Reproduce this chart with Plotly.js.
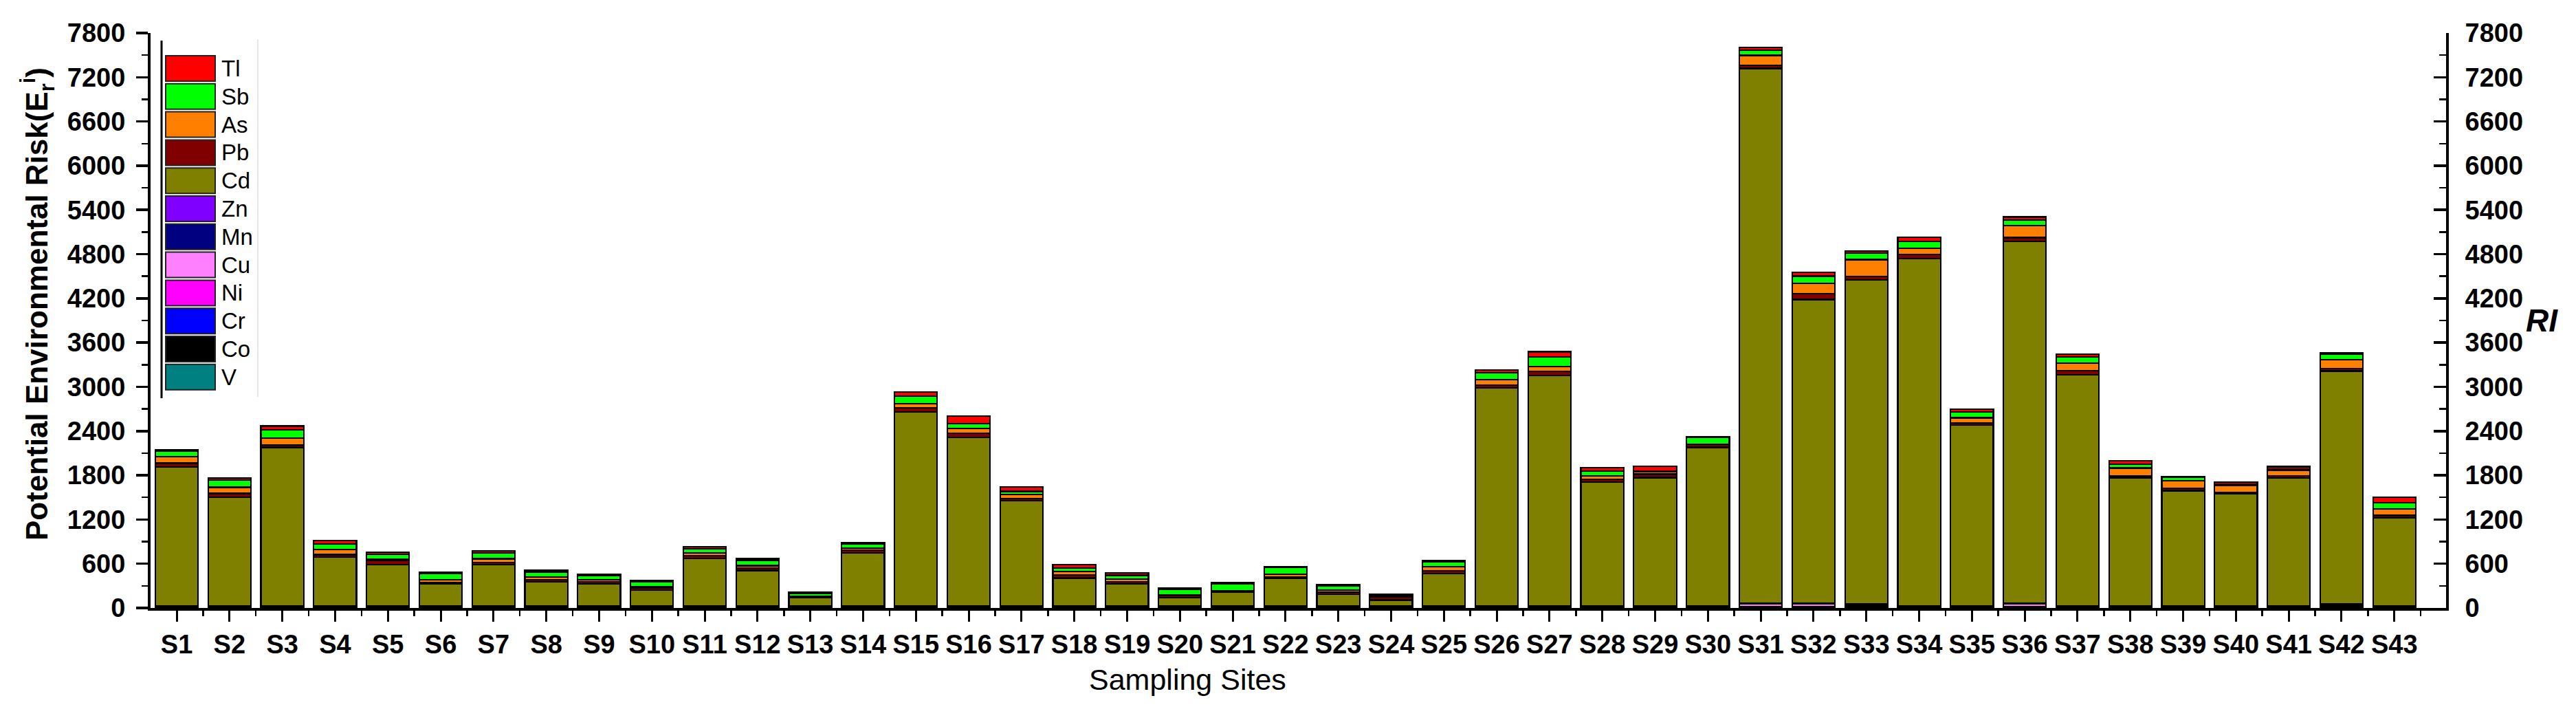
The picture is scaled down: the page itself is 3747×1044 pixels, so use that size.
<!DOCTYPE html>
<html>
<head>
<meta charset="utf-8">
<script src="https://cdn.plot.ly/plotly-3.0.1.min.js"></script>
<style>
html,body{margin:0;padding:0;background:#fff;}
#chart{width:3747px;height:1044px;}
</style>
</head>
<body>
<div id="chart"></div>
<script>
// ---- data ----
const sites = ['S1','S2','S3','S4','S5','S6','S7','S8','S9','S10','S11','S12','S13','S14','S15','S16','S17','S18','S19','S20','S21','S22','S23','S24','S25','S26','S27','S28','S29','S30','S31','S32','S33','S34','S35','S36','S37','S38','S39','S40','S41','S42','S43'];

// stacking order: bottom -> top
const elements = ['V','Co','Cr','Ni','Cu','Mn','Zn','Cd','Pb','As','Sb','Tl'];
const colors   = ['#008080','#000000','#0000FF','#FF00FF','#FF80FF','#000080','#8000FF','#808000','#800000','#FF8000','#00FF00','#FF0000'];

const V  = [4,4,4,4,4,4,4,4,4,4,4,4,4,4,4,4,4,4,4,4,4,4,4,4,4,4,4,4,4,4,4,4,4,4,4,4,4,4,4,4,4,4,4];
const Co = [8,8,8,8,8,8,8,8,8,8,8,8,8,8,8,8,8,8,8,8,8,8,8,8,8,8,8,8,8,8,8,8,35,8,8,8,8,8,8,8,8,35,8];
const Cr = [3,3,3,3,3,3,3,3,3,3,3,3,3,3,3,3,3,3,3,3,3,3,3,3,3,3,3,3,3,3,3,3,3,3,3,3,3,3,3,3,3,3,3];
const Ni = [6,6,6,6,6,6,6,6,6,6,6,6,6,6,6,6,6,6,6,6,6,6,6,6,6,6,6,6,6,6,6,6,6,6,6,6,6,6,6,6,6,6,6];
const Cu = [6,6,6,6,6,6,6,6,6,6,6,6,6,6,6,6,6,6,6,6,6,6,6,6,6,6,6,6,6,6,40,40,6,6,6,40,6,6,6,6,6,6,6];
const Mn = [1,1,1,1,1,1,1,1,1,1,1,1,1,1,1,1,1,1,1,1,1,1,1,1,1,1,1,1,1,1,1,1,1,1,1,1,1,1,1,1,1,1,1];
const Zn = [2,2,2,2,2,2,2,2,2,2,2,2,2,2,2,2,2,2,2,2,2,2,2,2,2,2,2,2,2,2,2,2,2,2,2,2,2,2,2,2,2,2,2];
const Cd = [1884,1472,2148,662,561,293,555,324,293,216,641,478,108,718,2632,2284,1422,376,293,108,185,370,155,78,438,2959,3127,1678,1739,2148,7255,4120,4395,4708,2453,4910,3132,1739,1561,1524,1733,3158,1195];
const Pb = [50,52,30,31,50,20,31,30,30,25,37,35,8,35,52,55,35,40,35,30,15,20,30,40,35,32,50,40,46,40,46,78,45,58,30,50,55,20,35,15,25,35,30];
const As = [85,83,100,70,25,37,52,35,30,20,40,30,8,30,60,65,55,48,35,5,5,40,30,10,55,75,65,40,37,5,131,145,228,80,67,165,105,110,100,90,80,120,85];
const Sb = [75,98,110,75,65,88,80,70,52,62,55,75,46,58,100,70,40,45,50,77,95,88,50,12,70,95,135,70,8,92,70,95,87,95,78,75,80,50,47,15,12,70,88];
const Tl = [24,25,50,46,23,15,30,25,20,22,28,23,15,15,55,102,58,52,34,18,18,12,22,15,18,37,68,44,65,10,37,50,30,58,40,40,44,45,12,34,37,20,72];

const yTicks = [0,600,1200,1800,2400,3000,3600,4200,4800,5400,6000,6600,7200,7800];

const seriesValues = [V,Co,Cr,Ni,Cu,Mn,Zn,Cd,Pb,As,Sb,Tl];

// ---- geometry (pixels) ----
const W = 3747, H = 1044;
const PL = 219, PR = 3558, PT = 48, PB = 884;
const fx = px => (px - PL) / (PR - PL);
const fy = py => (PB - py) / (PB - PT);
const FONT = 'Liberation Sans, Arial, sans-serif';

const xIdx = sites.map((s, i) => i + 1);

const traces = elements.map((el, k) => ({
  type: 'bar',
  name: el,
  x: xIdx,
  y: seriesValues[k],
  marker: {color: colors[k], line: {color: '#000', width: 2.2}},
  hoverinfo: 'x+y+name',
  showlegend: false
}));

// RI (sum of all E_r^i) on the right axis; drawn invisibly so the RI axis exists
const RI = xIdx.map((_, i) => seriesValues.reduce((s, arr) => s + arr[i], 0));
traces.push({type:'scatter', mode:'none', x: xIdx, y: RI, yaxis:'y2', name:'RI', showlegend:false, hoverinfo:'skip'});

// manual legend built from the element names & colours (top = last element)
const shapes = [];
const annotations = [];
shapes.push({type:'line', xref:'paper', yref:'paper', x0:fx(235), x1:fx(235), y0:fy(59), y1:fy(579), line:{color:'#000', width:3}});
shapes.push({type:'line', xref:'paper', yref:'paper', x0:fx(375), x1:fx(375), y0:fy(57), y1:fy(577), line:{color:'#e6e6e6', width:2}});
const legendOrder = elements.slice().reverse();
const legendColors = colors.slice().reverse();
legendOrder.forEach((el, i) => {
  const top = 81 + i * 40.8;
  const bot = top + 37;
  shapes.push({type:'rect', xref:'paper', yref:'paper', x0:fx(241), x1:fx(313), y0:fy(bot), y1:fy(top),
    fillcolor: legendColors[i], line:{color:'#222', width:2}});
  annotations.push({xref:'paper', yref:'paper', x:fx(320), y:fy((top+bot)/2), text: el, showarrow:false,
    xanchor:'left', yanchor:'middle', font:{family:FONT, size:33, color:'#000'}});
});

// axis titles
annotations.push({xref:'paper', yref:'paper', x:fx(55), y:fy(442), textangle:-90, showarrow:false,
  text:'Potential Environmental Risk(E<sub>r</sub><sup>i</sup>)', xanchor:'center', yanchor:'middle',
  font:{family:FONT, size:44, color:'#000', weight:'bold'}});
annotations.push({xref:'paper', yref:'paper', x:fx(1727), y:fy(988), showarrow:false,
  text:'Sampling Sites', xanchor:'center', yanchor:'middle',
  font:{family:FONT, size:43, color:'#000'}});
annotations.push({xref:'paper', yref:'paper', x:fx(3697), y:fy(466), showarrow:false,
  text:'<b><i>RI</i></b>', xanchor:'center', yanchor:'middle',
  font:{family:FONT, size:46, color:'#000'}});

const layout = {
  width: W, height: H,
  margin: {l: PL, r: W - PR, t: PT, b: H - PB, pad: 0},
  paper_bgcolor: '#fff', plot_bgcolor: '#fff',
  barmode: 'stack',
  bargap: 0.19,
  showlegend: false,
  xaxis: {
    type: 'linear',
    range: [0.505, 43.98],
    tickvals: xIdx, ticktext: sites,
    showgrid: false, zeroline: false,
    showline: true, linecolor: '#000', linewidth: 4,
    ticks: 'outside', ticklen: 16, tickwidth: 3, tickcolor: '#000',
    minor: {tick0: 0.5, dtick: 1, ticks: 'outside', ticklen: 8, tickwidth: 2.5, tickcolor: '#000'},
    tickfont: {family: FONT, size: 38, color: '#000', weight: 'bold'},
    fixedrange: true
  },
  yaxis: {
    range: [0, 7800], autorange: false,
    tickvals: yTicks,
    showgrid: false, zeroline: false,
    showline: true, linecolor: '#000', linewidth: 4,
    ticks: 'outside', ticklen: 17, tickwidth: 3.5, tickcolor: '#000',
    minor: {dtick: 300, ticks: 'outside', ticklen: 9, tickwidth: 2.5, tickcolor: '#000'},
    tickfont: {family: FONT, size: 38, color: '#000', weight: 'bold'},
    ticklabelstandoff: 8,
    fixedrange: true
  },
  yaxis2: {
    overlaying: 'y', side: 'right', anchor: 'x',
    range: [0, 7800], autorange: false,
    tickvals: yTicks,
    showgrid: false, zeroline: false,
    showline: true, linecolor: '#000', linewidth: 4,
    ticks: 'inside', ticklen: 18, tickwidth: 3.5, tickcolor: '#000',
    minor: {dtick: 300, ticks: 'inside', ticklen: 10, tickwidth: 2.5, tickcolor: '#000'},
    tickfont: {family: FONT, size: 38, color: '#000', weight: 'bold'},
    ticklabelstandoff: 16,
    fixedrange: true
  },
  shapes: shapes,
  annotations: annotations
};

Plotly.newPlot('chart', traces, layout, {displayModeBar: false, staticPlot: true});
</script>
</body>
</html>
